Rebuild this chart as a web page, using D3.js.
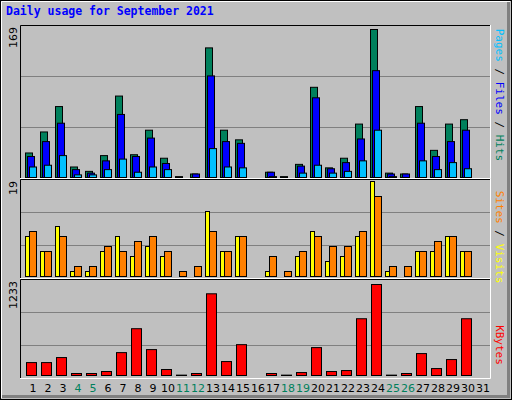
<!DOCTYPE html>
<html><head><meta charset="utf-8">
<script src="https://cdn.jsdelivr.net/npm/d3@7"></script>
<style>body{margin:0;background:#fff}</style></head>
<body><svg id="c" width="512" height="400"></svg>
<script>
const days = d3.range(1,32);
const weekend = [4,5,11,12,18,19,25,26];
const hits  = [28,52,81,12,7,25,93,26,54,22,1,4,148,54,43,0,6,1,15,103,11,22,61,169,5,4,81,31,61,66,0];
const files = [24,41,62,9,5,19,72,24,45,16,0,4,116,41,39,0,6,0,13,91,10,17,44,122,4,4,62,24,41,54,0];
const pages = [12,14,25,3,3,9,21,6,12,9,0,0,33,12,11,0,1,0,5,14,5,7,19,54,1,0,19,9,17,10,0];
const visits= [8,5,10,1,1,5,8,4,6,4,0,0,13,5,8,0,1,0,4,9,3,4,8,19,1,0,5,5,8,5,0];
const sites = [9,5,8,2,2,6,5,7,8,5,1,2,9,5,8,0,4,1,5,8,6,6,9,16,2,2,5,7,8,5,0];
const kbytes= [175,175,243,27,27,54,310,634,351,81,5,27,1107,189,418,0,27,5,40,378,54,67,769,1233,5,27,297,94,216,769,0];
const maxLabels = ["169","19","1233"];

const svg = d3.select("#c");
svg.append("rect").attr("x",0).attr("y",0).attr("width",512).attr("height",400).attr("fill","#C0C0C0");
// bevel
svg.append("rect").attr("x",0.5).attr("y",0.5).attr("width",511).attr("height",399).attr("fill","none").attr("stroke","#000");
svg.append("path").attr("d","M1.5,398V1.5H510").attr("stroke","#fff").attr("fill","none");
svg.append("path").attr("d","M2,396.5H508.5V2").attr("stroke","#808080").attr("stroke-width",3).attr("fill","none");

svg.append("text").attr("x",6).attr("y",15).text("Daily usage for September 2021")
  .attr("font-family","DejaVu Sans Mono").attr("font-weight","bold").attr("font-size",11.5).attr("fill","#0000FF");

const x = d3.scaleBand().domain(days).range([23,488]).paddingInner(0);
const L=20, R=490;
const panels = [
  {top:25,bottom:178,base:177,ytop:29,max:169},
  {top:179,bottom:278,base:276,ytop:181,max:19},
  {top:279,bottom:378,base:375,ytop:284,max:1233}
];
panels.forEach((p,i)=>{
  p.y = d3.scaleLinear().domain([0,p.max]).range([p.base,p.ytop]);
  const h = p.bottom-p.top;
  [1,2].forEach(k=>svg.append("line").attr("x1",L).attr("x2",R)
    .attr("y1",p.top+k*h/3+0.5).attr("y2",p.top+k*h/3+0.5).attr("stroke","#808080"));
  svg.append("path").attr("d",`M${L+0.5},${p.bottom}V${p.top+0.5}H${R}`).attr("stroke","#000").attr("fill","none");
  svg.append("path").attr("d",`M${L},${p.bottom+0.5}H${R+0.5}V${p.top}`).attr("stroke","#fff").attr("fill","none");
  svg.append("text").attr("transform",`translate(17,${p.top+2}) rotate(-90)`).attr("text-anchor","end")
    .attr("font-family","DejaVu Sans").attr("font-size",11).text(maxLabels[i]);
});

function bars(data,panel,off,w,color){
  svg.append("g").selectAll("rect").data(data).join("rect")
    .attr("x",(d,i)=>x(days[i])+off+0.5).attr("width",w)
    .attr("y",d=>panel.y(d)+0.5).attr("height",d=>Math.max(0,panel.base-panel.y(d)))
    .attr("fill",color).attr("stroke","#000").attr("stroke-width",1)
    .attr("display",d=>d>0?null:"none");
}
bars(hits,panels[0],2,7,"#00805C");
bars(files,panels[0],4,7,"#0000FF");
bars(pages,panels[0],6,7,"#00C0FF");
bars(visits,panels[1],2,4,"#FFFF00");
bars(sites,panels[1],6,7,"#FF8000");
bars(kbytes,panels[2],3,10,"#FF0000");

svg.append("g").selectAll("text").data(days).join("text")
  .attr("x",d=>x(d)+10).attr("y",392).attr("text-anchor","middle")
  .attr("font-family","DejaVu Sans").attr("font-size",11)
  .attr("fill",d=>weekend.includes(d)?"#00805C":"#000").text(d=>d);

function vlabel(parts,cx,cy){
  const t = svg.append("text").attr("transform",`translate(${cx},${cy}) rotate(90)`)
    .attr("text-anchor","middle").attr("font-family","DejaVu Sans Mono").attr("font-size",11);
  parts.forEach(([s,c])=>t.append("tspan").attr("fill",c).text(s));
}
vlabel([["Pages","#00C0FF"],[" / ","#000"],["Files","#0000FF"],[" / ","#000"],["Hits","#00805C"]],496,95);
vlabel([["Sites","#FF8000"],[" / ","#000"],["Visits","#FFFF00"]],496,237);
vlabel([["KBytes","#FF0000"]],496,345);
</script></body></html>
